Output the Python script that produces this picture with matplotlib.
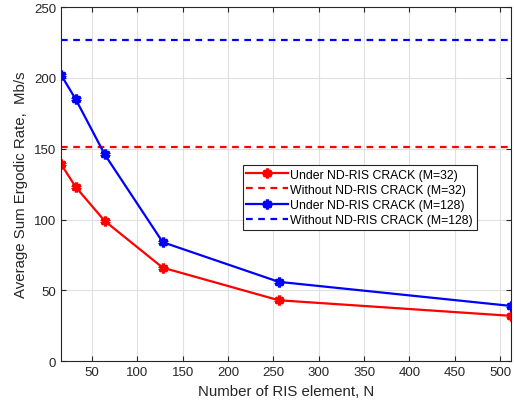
import matplotlib
matplotlib.use("Agg")
import matplotlib.pyplot as plt

# RIS element counts and the sum ergodic rates (Mb/s)
n_elements = [16, 32, 64, 128, 256, 512]
rate_crack_m32 = [139, 123, 99, 66, 43, 32]
rate_crack_m128 = [202, 185, 146, 84, 56, 39]
rate_nocrack_m32 = 151
rate_nocrack_m128 = 227

x_ticks = [50, 100, 150, 200, 250, 300, 350, 400, 450, 500]
y_ticks = [0, 50, 100, 150, 200, 250]

plt.rcParams["font.family"] = ["Liberation Sans", "DejaVu Sans"]
plt.rcParams["font.size"] = 9.5

fig = plt.figure(figsize=(5.14, 4.06), dpi=100)
ax = fig.add_axes([0.119, 0.108, 0.875, 0.872])

# asterisk-like marker drawn with thick strokes
star = (6, 2, 0)
ax.plot(n_elements, rate_crack_m32, "r-", lw=1.6, marker=star, ms=7, mew=2.4,
        label="Under ND-RIS CRACK (M=32)")
ax.axhline(rate_nocrack_m32, color="r", ls=(0, (3, 2.5)), lw=1.6,
           label="Without ND-RIS CRACK (M=32)")
ax.plot(n_elements, rate_crack_m128, "b-", lw=1.6, marker=star, ms=7, mew=2.4,
        label="Under ND-RIS CRACK (M=128)")
ax.axhline(rate_nocrack_m128, color="b", ls=(0, (3, 2.5)), lw=1.6,
           label="Without ND-RIS CRACK (M=128)")

ax.set_xlim(16, 512)
ax.set_ylim(0, 250)
ax.set_xticks(x_ticks)
ax.set_yticks(y_ticks)
ax.grid(True, color="#e0e0e0", lw=0.8)
ax.set_axisbelow(True)
ax.tick_params(direction="in", top=True, right=True, length=3.5, colors="#262626",
               labelcolor="#262626")
for sp in ax.spines.values():
    sp.set_color("#262626")
    sp.set_linewidth(0.8)

ax.set_xlabel("Number of RIS element, N", color="#262626", fontsize=10.8)
ax.set_ylabel("Average Sum Ergodic Rate,  Mb/s", color="#262626", fontsize=10.8)

leg = ax.legend(loc="upper right", bbox_to_anchor=(0.924, 0.554), fontsize=8.8,
                fancybox=False, edgecolor="#262626", framealpha=1,
                handlelength=3.4, handletextpad=0.2, borderpad=0.3,
                labelspacing=0.25, borderaxespad=0)
leg.get_frame().set_linewidth(0.8)

fig.savefig("out.png", dpi=100)
